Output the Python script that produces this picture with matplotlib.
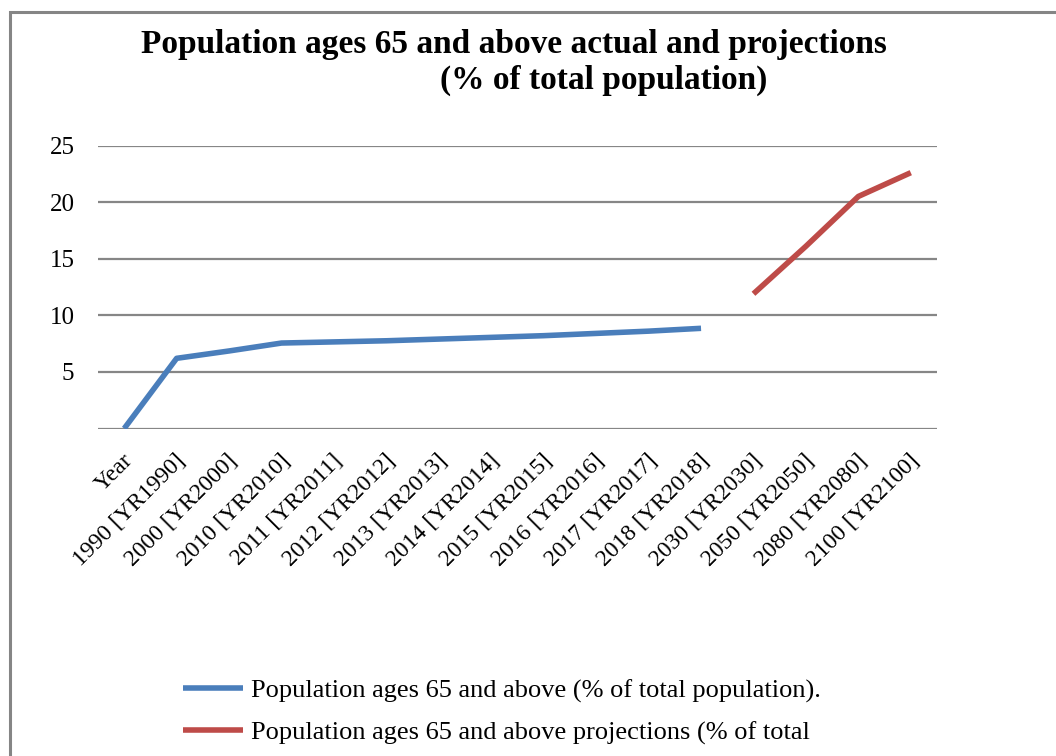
import matplotlib
matplotlib.use("Agg")
import matplotlib.pyplot as plt
import matplotlib.transforms as mtransforms
from matplotlib.patches import Rectangle

# categories on the x axis
years = ["Year", "1990 [YR1990]", "2000 [YR2000]", "2010 [YR2010]", "2011 [YR2011]",
         "2012 [YR2012]", "2013 [YR2013]", "2014 [YR2014]", "2015 [YR2015]",
         "2016 [YR2016]", "2017 [YR2017]", "2018 [YR2018]", "2030 [YR2030]",
         "2050 [YR2050]", "2080 [YR2080]", "2100 [YR2100]"]

# actual values (Year .. 2018)
actual = [0, 6.2, 6.85, 7.55, 7.65, 7.75, 7.9, 8.05, 8.2, 8.4, 8.6, 8.85]
# projections (2030 .. 2100)
projected = [11.9, 16.1, 20.5, 22.6]

yticks = [5, 10, 15, 20, 25]

plt.rcParams['font.family'] = ['Liberation Serif', 'DejaVu Serif']

fig = plt.figure(figsize=(10.56, 7.56), dpi=100)
W, H = 1056, 756

# gray frame of the original chart box (left and top edges visible)
fig.patches.append(Rectangle((10 / W, -0.1), 1.2, 1 - 12 / H + 0.1, transform=fig.transFigure,
                             fill=False, edgecolor="#858585", linewidth=2.2))

ax = fig.add_axes([98 / W, (H - 428.5) / H, 839 / W, 283 / H])

x_act = list(range(len(actual)))
x_proj = list(range(len(actual), len(actual) + len(projected)))

ax.plot(x_act, actual, color="#4a7ebb", lw=4, solid_capstyle="butt",
        label="Population ages 65 and above (% of total population).")
ax.plot(x_proj, projected, color="#be4b48", lw=4, solid_capstyle="butt",
        label="Population ages 65 and above projections (% of total")

ax.set_xlim(-0.5, len(years) - 0.5)
ax.set_ylim(0, 25)
for v in [0] + yticks:
    ax.axhline(v, color="#868686", lw=1.6, zorder=0)

ax.tick_params(axis="both", length=0)
ax.tick_params(axis="y", pad=17)
ax.tick_params(axis="x", pad=0)
for s in ax.spines.values():
    s.set_visible(False)

ax.set_yticks(yticks)
ax.set_yticklabels([str(v) for v in yticks], fontsize=18)
ax.set_xticks(range(len(years)))
ax.set_xticklabels(years, rotation=45, ha="right", va="center", rotation_mode="anchor",
                   fontsize=17)
# push the slanted labels down/right a bit, like the original
offset = mtransforms.ScaledTranslation(0.05, -0.29, fig.dpi_scale_trans)
for lbl in ax.get_xticklabels():
    lbl.set_transform(lbl.get_transform() + offset)

fig.text(514 / W, 1 - 44 / H, "Population ages 65 and above actual and projections",
         ha="center", va="center", fontsize=24, fontweight="bold")
fig.text(604 / W, 1 - 80 / H, "(% of total population)",
         ha="center", va="center", fontsize=24, fontweight="bold")

fig.legend(loc="upper left", bbox_to_anchor=(159 / W, 1 - 655 / H), frameon=False,
           fontsize=19, handlelength=2.3, handletextpad=0.3, labelspacing=0.7)

plt.savefig("out.png", dpi=100)
